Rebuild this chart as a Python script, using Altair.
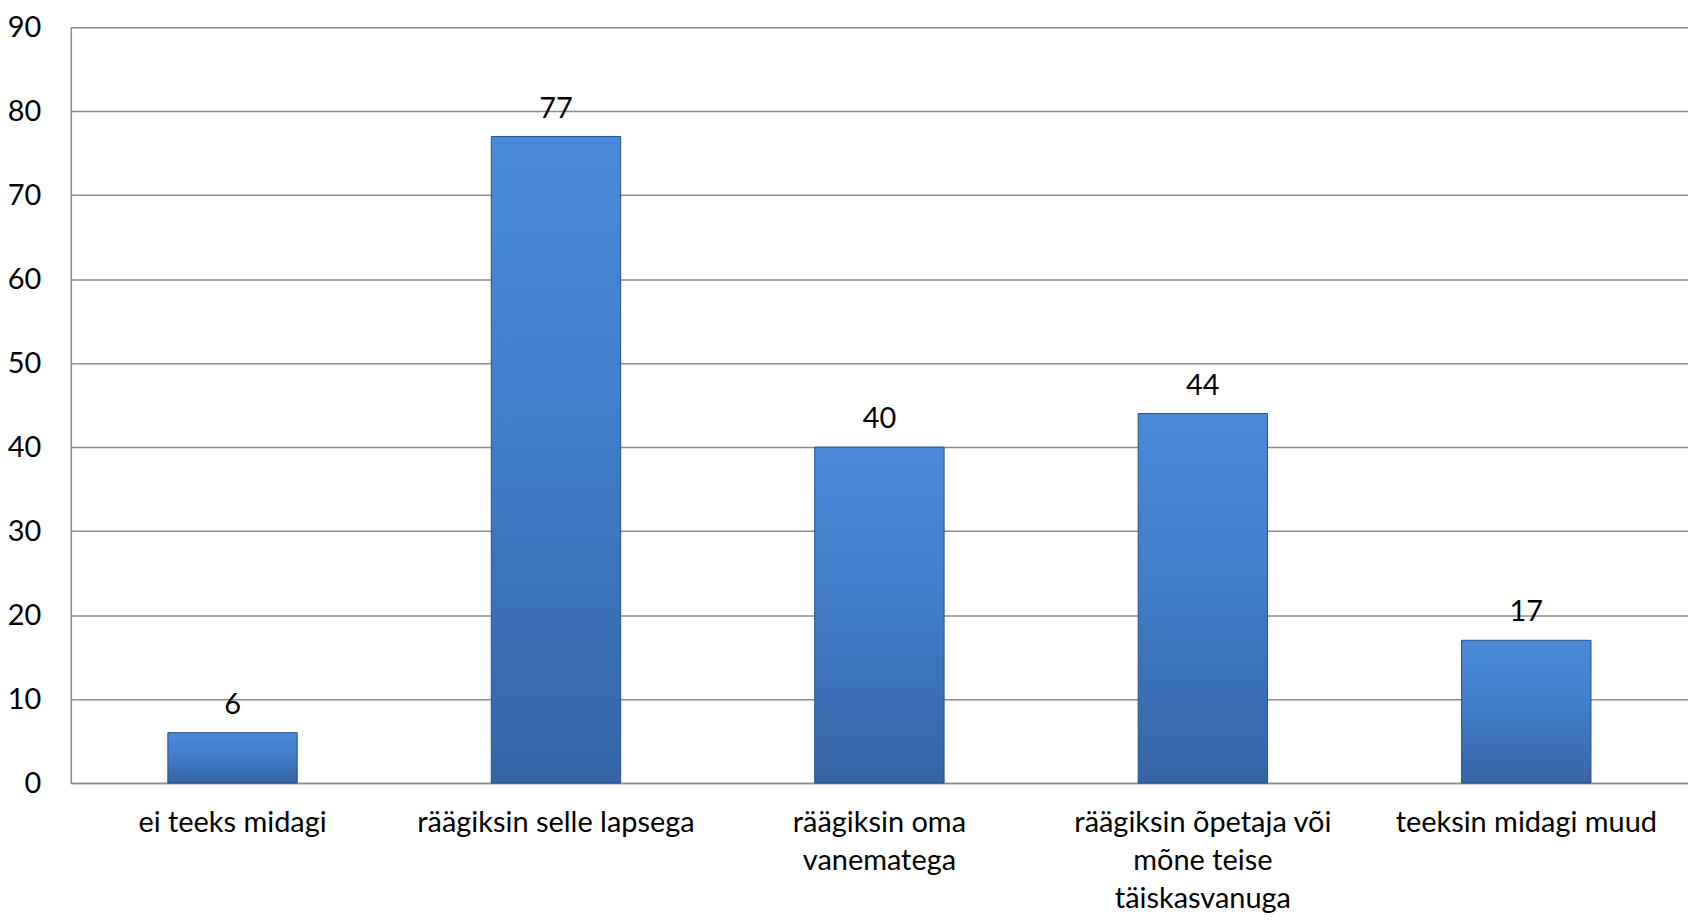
import altair as alt
import pandas as pd

categories = [
    "ei teeks midagi",
    "räägiksin selle lapsega",
    "räägiksin oma vanematega",
    "räägiksin õpetaja või mõne teise täiskasvanuga",
    "teeksin midagi muud",
]
label_lines = [
    ["ei teeks midagi"],
    ["räägiksin selle lapsega"],
    ["räägiksin oma", "vanematega"],
    ["räägiksin õpetaja või", "mõne teise", "täiskasvanuga"],
    ["teeksin midagi muud"],
]
values = [6, 77, 40, 44, 17]
y_ticks = [0, 10, 20, 30, 40, 50, 60, 70, 80, 90]

df = pd.DataFrame({"category": categories, "value": values})

# build label expression for multi-line axis labels
parts = []
for cat, lines in zip(categories, label_lines):
    arr = "[" + ",".join("'" + l + "'" for l in lines) + "]"
    parts.append(f"datum.value == '{cat}' ? {arr}")
label_expr = " : ".join(parts) + " : datum.value"

FONT = "Lato"

x = alt.X(
    "category:N",
    sort=categories,
    title=None,
    scale=alt.Scale(paddingInner=0.6, paddingOuter=0.3),
    axis=alt.Axis(
        labelAngle=0,
        labelFont=FONT,
        labelFontSize=29,
        labelColor="#000000",
        labelLineHeight=38,
        labelPadding=26,
        labelExpr=label_expr,
        ticks=False,
        domain=True,
        domainColor="#8c8c8c",
        domainWidth=1.5,
        grid=False,
        labelLimit=400,
    ),
)
y = alt.Y(
    "value:Q",
    title=None,
    scale=alt.Scale(domain=[0, 90], nice=False),
    axis=alt.Axis(
        values=y_ticks,
        labelFont=FONT,
        labelFontSize=29,
        labelColor="#000000",
        labelPadding=30,
        ticks=False,
        domain=True,
        domainColor="#8c8c8c",
        domainWidth=1.5,
        grid=True,
        gridColor="#8c8c8c",
        gridWidth=1.5,
    ),
)

bars = alt.Chart(df).mark_bar(
    color=alt.Gradient(
        gradient="linear",
        x1=0, y1=0, x2=0, y2=1,
        stops=[
            alt.GradientStop(color="#4a8ad8", offset=0),
            alt.GradientStop(color="#427fcc", offset=0.4),
            alt.GradientStop(color="#3565a6", offset=1),
        ],
    ),
    stroke="#2a4f82",
    strokeWidth=1,
).encode(x=x, y=y)

labels = alt.Chart(df).mark_text(
    font=FONT,
    fontSize=29,
    color="#000000",
    baseline="alphabetic",
    dy=-19,
).encode(x=alt.X("category:N", sort=categories), y="value:Q", text="value:Q")

chart = (
    alt.layer(bars, labels)
    .properties(
        width=1622,
        height=758,
        autosize=alt.AutoSizeParams(type="none"),
        padding={"left": 63, "top": 18, "right": 0, "bottom": 134},
    )
    .configure_view(stroke=None)
    .configure(background="white")
)

chart.save("out.html", embed_options={"renderer": "svg", "actions": False})
